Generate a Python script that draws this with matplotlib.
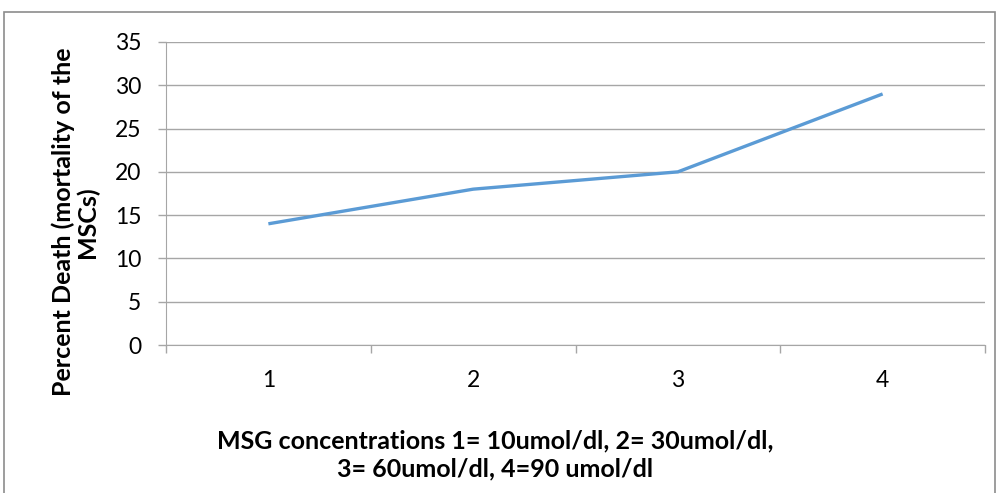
import matplotlib
matplotlib.use("Agg")
import matplotlib.pyplot as plt
from matplotlib.patches import Rectangle

categories = ["1", "2", "3", "4"]
values = [14, 18, 20, 29]
yticks = [0, 5, 10, 15, 20, 25, 30, 35]

plt.rcParams['font.family'] = ['Lato', 'DejaVu Sans']

W, H = 996, 493
fig = plt.figure(figsize=(W/100, H/100), dpi=100)
fig.patches.append(Rectangle((4/W, -0.05), 0.999 - 4/W, 1.05 - 12/H,
                             transform=fig.transFigure, fill=False,
                             edgecolor='#8c8c8c', linewidth=1.2))
ax = fig.add_axes([166/W, 1 - 345/H, (985-166)/W, (345-42)/H])
x = list(range(1, len(categories) + 1))
ax.plot(x, values, color='#5B9BD5', linewidth=2.4, solid_capstyle='butt')
ax.set_xlim(0.5, len(categories) + 0.5)
ax.set_ylim(0, 35)
ax.set_yticks(yticks)
ax.set_yticklabels([str(v) for v in yticks], fontsize=16.5)
ax.set_xticks(x)
ax.set_xticklabels(categories, fontsize=16.5)
ax.tick_params(axis='x', length=0, pad=18)
ax.set_xticks([0.5 + i for i in range(len(categories) + 1)], minor=True)
ax.tick_params(axis='x', which='minor', length=5.8, color='#a6a6a6', width=1)
ax.tick_params(axis='y', length=5.8, color='#a6a6a6', width=1, pad=12)
ax.yaxis.grid(True, color='#a6a6a6', linewidth=1)
ax.set_axisbelow(True)
for s in ['top', 'right']:
    ax.spines[s].set_visible(False)
ax.spines['left'].set_color('#a6a6a6')
ax.spines['bottom'].set_color('#a6a6a6')

fig.text(495/W, 1 - 455/H, "MSG concentrations 1= 10umol/dl, 2= 30umol/dl,\n3= 60umol/dl, 4=90 umol/dl",
         fontsize=18, fontweight='bold', ha='center', va='center', linespacing=1.25)
fig.text(75/W, 1 - 222/H, "Percent Death (mortality of the\nMSCs)", fontsize=18,
         fontweight='bold', rotation=90, ha='center', va='center', linespacing=1.05)

fig.savefig("out.png", dpi=100)
